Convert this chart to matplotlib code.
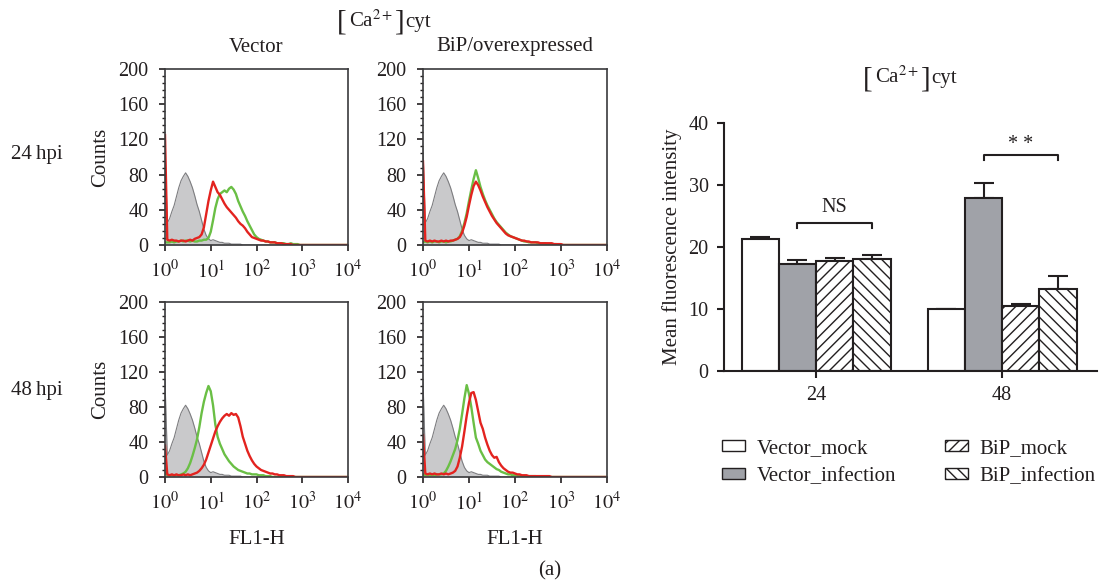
import numpy as np
import matplotlib
matplotlib.use("Agg")
import matplotlib.pyplot as plt
from matplotlib.ticker import MultipleLocator, LogLocator, NullFormatter
from matplotlib.patches import Patch

plt.rcParams['font.family'] = ['Liberation Serif', 'DejaVu Serif']
plt.rcParams['mathtext.fontset'] = 'stix'
plt.rcParams['text.color'] = '#231f20'
plt.rcParams['axes.labelcolor'] = '#231f20'
plt.rcParams['xtick.color'] = '#231f20'
plt.rcParams['ytick.color'] = '#231f20'
plt.rcParams['hatch.linewidth'] = 1.0

W, H = 1101, 588

# ---- flow cytometry histograms (counts per log10 channel, step 0.05 decade) ----
channel_log = np.round(np.arange(0, 81) * 0.05, 2)

gray_control = [110, 25, 30, 38, 45, 55, 65, 73, 78, 82, 78, 72, 65, 56, 46, 38, 28, 18, 11, 7,
                5, 6, 5, 4, 3, 3, 2, 2, 2, 1, 1, 1, 1, 1, 0, 0, 0, 0, 0, 0,
                0, 0, 0, 0, 0, 0, 0, 0, 0, 0, 0, 0, 0, 0, 0, 0, 0, 0, 0, 0,
                0, 0, 0, 0, 0, 0, 0, 0, 0, 0, 0, 0, 0, 0, 0, 0, 0, 0, 0, 0, 0]

vec24_green = [3, 3, 3, 4, 3, 4, 4, 5, 4, 5, 5, 4, 5, 4, 4, 5, 5, 6, 6, 8,
               15, 28, 42, 52, 58, 60, 62, 60, 64, 66, 63, 58, 50, 44, 38, 33, 27, 22, 17, 12,
               9, 7, 6, 5, 4, 4, 3, 3, 3, 2, 2, 2, 2, 1, 1, 2, 1, 1, 1, 0,
               0, 0, 0, 0, 0, 0, 0, 0, 0, 0, 0, 0, 0, 0, 0, 0, 0, 0, 0, 0, 0]
vec24_red = [125, 6, 5, 6, 5, 5, 4, 5, 5, 4, 5, 6, 5, 7, 8, 9, 12, 20, 35, 50,
             62, 72, 66, 60, 57, 52, 47, 43, 40, 37, 34, 31, 27, 24, 22, 19, 15, 12, 9, 8,
             7, 6, 5, 5, 4, 4, 3, 3, 3, 2, 2, 2, 1, 1, 1, 1, 0, 0, 0, 0,
             0, 0, 0, 0, 0, 0, 0, 0, 0, 0, 0, 0, 0, 0, 0, 0, 0, 0, 0, 0, 0]

bip24_green = [3, 4, 3, 4, 3, 4, 4, 3, 4, 4, 3, 4, 4, 5, 6, 7, 10, 16, 25, 36,
               50, 63, 75, 85, 76, 66, 58, 51, 45, 40, 35, 30, 26, 23, 20, 17, 14, 12, 10, 9,
               8, 7, 6, 5, 4, 4, 3, 3, 3, 3, 2, 2, 2, 2, 1, 1, 1, 1, 1, 0,
               0, 0, 0, 0, 0, 0, 0, 0, 0, 0, 0, 0, 0, 0, 0, 0, 0, 0, 0, 0, 0]
bip24_red = [95, 5, 4, 5, 4, 5, 4, 4, 5, 4, 5, 4, 5, 5, 6, 7, 9, 14, 22, 32,
             45, 57, 67, 72, 68, 62, 55, 49, 43, 38, 33, 29, 25, 22, 19, 16, 13, 11, 10, 9,
             8, 7, 6, 5, 5, 4, 4, 3, 3, 3, 3, 2, 2, 2, 2, 2, 2, 1, 1, 1,
             1, 0, 0, 0, 0, 0, 0, 0, 0, 0, 0, 0, 0, 0, 0, 0, 0, 0, 0, 0, 0]

vec48_green = [5, 2, 2, 2, 2, 2, 2, 3, 4, 6, 10, 16, 24, 33, 43, 57, 73, 86, 96, 104,
               98, 82, 60, 46, 38, 32, 26, 22, 18, 15, 12, 10, 8, 7, 6, 5, 4, 4, 3, 3,
               3, 2, 2, 2, 1, 1, 1, 0, 0, 0, 0, 0, 0, 0, 0, 0, 0, 0, 0, 0,
               0, 0, 0, 0, 0, 0, 0, 0, 0, 0, 0, 0, 0, 0, 0, 0, 0, 0, 0, 0, 0]
vec48_red = [36, 3, 2, 3, 2, 3, 2, 2, 3, 2, 3, 2, 3, 4, 5, 7, 10, 14, 20, 28,
             36, 44, 52, 58, 63, 67, 70, 72, 70, 73, 71, 72, 68, 58, 46, 38, 30, 24, 19, 15,
             12, 10, 8, 7, 6, 5, 4, 4, 3, 3, 2, 2, 2, 1, 1, 1, 1, 0, 0, 0,
             0, 0, 0, 0, 0, 0, 0, 0, 0, 0, 0, 0, 0, 0, 0, 0, 0, 0, 0, 0, 0]

bip48_green = [3, 2, 3, 2, 3, 2, 3, 3, 3, 4, 7, 12, 18, 25, 32, 42, 55, 72, 90, 105,
               95, 80, 62, 45, 38, 30, 25, 20, 17, 15, 13, 11, 9, 8, 6, 5, 4, 3, 3, 2,
               2, 2, 1, 1, 1, 1, 1, 1, 1, 1, 0, 0, 0, 0, 0, 0, 0, 0, 0, 0,
               0, 0, 0, 0, 0, 0, 0, 0, 0, 0, 0, 0, 0, 0, 0, 0, 0, 0, 0, 0, 0]
bip48_red = [48, 4, 3, 4, 3, 4, 3, 3, 4, 3, 4, 3, 4, 5, 7, 12, 22, 35, 52, 70,
             85, 96, 97, 88, 75, 62, 55, 45, 37, 30, 25, 22, 23, 17, 13, 10, 8, 6, 5, 5,
             4, 3, 3, 2, 2, 2, 1, 1, 1, 1, 1, 1, 1, 1, 1, 1, 0, 0, 0, 0,
             0, 0, 0, 0, 0, 0, 0, 0, 0, 0, 0, 0, 0, 0, 0, 0, 0, 0, 0, 0, 0]

# ---- bar chart: mean fluorescence intensity ----
hpi_labels = ['24', '48']
groups = ['Vector_mock', 'Vector_infection', 'BiP_mock', 'BiP_infection']
mfi_mean = {'Vector_mock': [21.3, 10.0],
            'Vector_infection': [17.3, 27.9],
            'BiP_mock': [17.7, 10.5],
            'BiP_infection': [18.1, 13.2]}
mfi_err = {'Vector_mock': [0.3, 0.0],
           'Vector_infection': [0.6, 2.4],
           'BiP_mock': [0.5, 0.3],
           'BiP_infection': [0.6, 2.1]}

FS_TICK = 14.5
FS_LAB = 15


def fbox(left, top, right, bottom):
    return [left / W, 1 - bottom / H, (right - left) / W, (bottom - top) / H]


def ftxt(x, y):
    return x / W, 1 - y / H


fig = plt.figure(figsize=(W / 100, H / 100), dpi=100)


def ca_title(cx, cy):
    # "[Ca2+]cyt" with tall square brackets, centred on pixel (cx, cy)
    parts = [('[', 21, 0), (r'Ca$^{2+}$', FS_LAB, 2), (']', 21, 2), ('cyt', FS_LAB, 1)]
    fig.canvas.draw()
    r = fig.canvas.get_renderer()
    texts, widths = [], []
    for s, fs, gap in parts:
        t = fig.text(0, 0, s, fontsize=fs, va='baseline', ha='left')
        widths.append(t.get_window_extent(r).width + gap)
        texts.append(t)
    x0 = cx - sum(widths) / 2
    for t, w, (s, fs, gap) in zip(texts, widths, parts):
        base = cy + 5 + (3 if s in '[]' else 0)
        t.set_position(ftxt(x0 + (gap if s != '[' else 0), base))
        x0 += w


GREEN = '#6abf45'
RED = '#e3231f'
FILL = '#c9c9cb'
EDGE = '#7d7d80'

panels = [
    (fbox(165, 69, 348, 245), vec24_green, vec24_red, True, False),
    (fbox(423, 69, 607, 245), bip24_green, bip24_red, False, False),
    (fbox(165, 302, 348, 477), vec48_green, vec48_red, True, True),
    (fbox(423, 302, 607, 477), bip48_green, bip48_red, False, True),
]

xs = 10 ** channel_log
for box, green, red, show_ylabel, show_xlabel in panels:
    ax = fig.add_axes(box)
    ax.fill_between(xs, gray_control, color=FILL, lw=0)
    ax.plot(xs, gray_control, color=EDGE, lw=0.8)
    ax.plot(xs, green, color=GREEN, lw=1.7)
    ax.plot(xs, red, color=RED, lw=1.7)
    ax.set_xscale('log')
    ax.set_xlim(1, 1e4)
    ax.set_ylim(0, 200)
    ax.set_yticks([0, 40, 80, 120, 160, 200])
    ax.yaxis.set_minor_locator(MultipleLocator(8))
    ax.set_xticks([1, 10, 100, 1000, 10000])
    ax.set_xticklabels(['$10^{0}$', '$10^{1}$', '$10^{2}$', '$10^{3}$', '$10^{4}$'])
    ax.xaxis.set_minor_locator(LogLocator(base=10, subs=np.arange(2, 10)))
    ax.xaxis.set_minor_formatter(NullFormatter())
    ax.tick_params(which='major', direction='out', length=4, width=1.2, labelsize=FS_TICK)
    ax.tick_params(axis='x', which='major', pad=7)
    ax.tick_params(axis='y', which='major', pad=8)
    ax.tick_params(which='minor', direction='out', length=2.5, width=1.0)
    for sp in ax.spines.values():
        sp.set_color('#3a3a3c')
        sp.set_linewidth(1.2)
    if show_ylabel:
        ax.set_ylabel('Counts', fontsize=FS_LAB, labelpad=6)
    if show_xlabel:
        ax.set_xlabel('FL1-H', fontsize=FS_LAB, labelpad=11)

ca_title(384, 22)
fig.text(*ftxt(256, 47), 'Vector', fontsize=FS_LAB, ha='center', va='center')
fig.text(*ftxt(515, 47), 'BiP/overexpressed', fontsize=FS_LAB, ha='center', va='center')
fig.text(*ftxt(37, 155), '24\u2009hpi', fontsize=FS_LAB, ha='center', va='center')
fig.text(*ftxt(37, 390), '48\u2009hpi', fontsize=FS_LAB, ha='center', va='center')
fig.text(*ftxt(550, 571), '(a)', fontsize=FS_LAB, ha='center', va='center')

# ---- bar chart ----
bx = fig.add_axes(fbox(724, 123, 1097, 371))
x = np.arange(len(hpi_labels))
bw = 0.2
styles = {'Vector_mock': dict(facecolor='white', hatch=None),
          'Vector_infection': dict(facecolor='#a0a2a8', hatch=None),
          'BiP_mock': dict(facecolor='white', hatch='///'),
          'BiP_infection': dict(facecolor='white', hatch='\\\\\\')}
handles = []
for i, g in enumerate(groups):
    pos = x + (i - 1.5) * bw
    bx.bar(pos, mfi_mean[g], width=bw, edgecolor='#231f20', linewidth=1.5,
           zorder=2, **styles[g])
    bx.errorbar(pos, mfi_mean[g], yerr=[np.zeros(len(x)), mfi_err[g]], fmt='none',
                ecolor='#231f20', elinewidth=1.5, capsize=7, capthick=1.5, zorder=1)
    handles.append(Patch(edgecolor='#231f20', linewidth=1.0, label=g, **styles[g]))

bx.set_xlim(-0.495, 1.51)
bx.set_ylim(0, 40)
bx.set_yticks([0, 10, 20, 30, 40])
bx.set_xticks(x)
bx.set_xticklabels(hpi_labels)
bx.spines['top'].set_visible(False)
bx.spines['right'].set_visible(False)
for sp in ('left', 'bottom'):
    bx.spines[sp].set_linewidth(1.5)
    bx.spines[sp].set_color('#231f20')
bx.tick_params(direction='out', length=5, width=1.5, labelsize=FS_TICK)
bx.tick_params(axis='x', pad=6)
bx.tick_params(axis='y', pad=6)
bx.set_ylabel('Mean fluorescence intensity', fontsize=FS_LAB, labelpad=5)
ca_title(910, 78)


def bracket(ax, x1, x2, y, drop, label, ly):
    ax.plot([x1, x1, x2, x2], [y - drop, y, y, y - drop], color='#231f20', lw=1.5,
            clip_on=False)
    ax.text((x1 + x2) / 2, ly, label, ha='center', va='center', fontsize=FS_TICK)


bracket(bx, x[0] - 0.5 * bw, x[0] + 1.5 * bw, 23.9, 0.8, 'NS', 26.3)
bracket(bx, x[1] - 0.5 * bw, x[1] + 1.5 * bw, 34.8, 0.8, '* *', 36.6)

for hs, xa in ((handles[:2], 722), (handles[2:], 945)):
    fig.legend(handles=hs, loc='upper left', bbox_to_anchor=ftxt(xa, 439),
               frameon=False, fontsize=FS_LAB, handlelength=1.1, handleheight=0.45,
               handletextpad=0.55, labelspacing=0.42, borderaxespad=0, borderpad=0)

fig.savefig('out.png', dpi=100)
